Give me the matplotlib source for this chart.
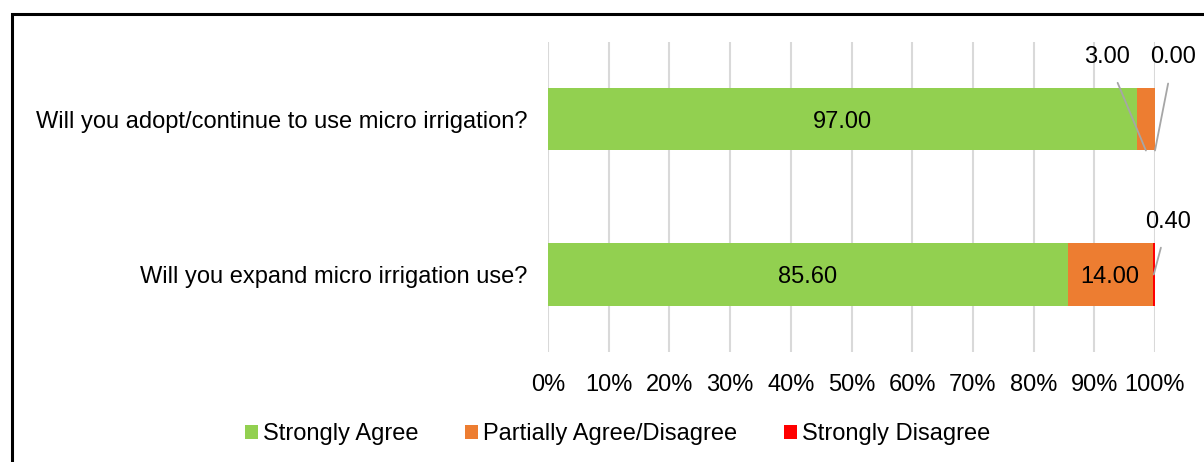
import matplotlib
matplotlib.use("Agg")
from matplotlib import pyplot as plt
from matplotlib.patches import Rectangle
from matplotlib.ticker import PercentFormatter

plt.rcParams['font.family'] = ['Liberation Sans', 'DejaVu Sans']

categories = ['Will you adopt/continue to use micro irrigation?',
              'Will you expand micro irrigation use?']
strongly_agree = [97.00, 85.60]
partially_agree = [3.00, 14.00]
strongly_disagree = [0.00, 0.40]
series_names = ['Strongly Agree', 'Partially Agree/Disagree', 'Strongly Disagree']
series_colors = ['#92D050', '#ED7D31', '#FF0000']

FS = 17

fig = plt.figure(figsize=(12.04, 4.62), dpi=100)
ax = fig.add_axes([548 / 1204, 1 - 352 / 462, 607 / 1204, 310 / 462])

ypos = list(range(len(categories)))
left = [0.0] * len(categories)
for vals, name, col in zip([strongly_agree, partially_agree, strongly_disagree],
                           series_names, series_colors):
    ax.barh(ypos, vals, left=left, height=0.4, color=col, label=name, zorder=3)
    left = [l + v for l, v in zip(left, vals)]

ax.set_xlim(0, 100)
ax.set_ylim(1.5, -0.5)
ax.set_yticks(ypos)
ax.set_yticklabels(categories)
ax.set_xticks(range(0, 101, 10))
ax.xaxis.set_major_formatter(PercentFormatter(decimals=0))
ax.tick_params(axis='both', length=0, labelsize=FS)
ax.tick_params(axis='x', pad=16)
ax.tick_params(axis='y', pad=15)
ax.grid(axis='x', color='#D9D9D9', linewidth=1.5, zorder=0)
for s in ax.spines.values():
    s.set_visible(False)

# labels inside bars
for i in ypos:
    ax.text(strongly_agree[i] / 2, i, f'{strongly_agree[i]:.2f}',
            ha='center', va='center_baseline', fontsize=FS, zorder=4)
ax.text(strongly_agree[1] + partially_agree[1] / 2, 1, f'{partially_agree[1]:.2f}',
        ha='center', va='center_baseline', fontsize=FS, zorder=4)

# small segments get leader lines
lead = dict(arrowstyle='-', color='#A6A6A6', lw=1.3, shrinkA=9, shrinkB=0)
ax.annotate(f'{partially_agree[0]:.2f}', xy=(strongly_agree[0] + partially_agree[0] / 2, 0.2),
            xytext=(92.1, -0.40), ha='center', va='center', fontsize=FS,
            arrowprops=lead, annotation_clip=False)
ax.annotate(f'{strongly_disagree[0]:.2f}', xy=(100, 0.2),
            xytext=(103.0, -0.40), ha='center', va='center', fontsize=FS,
            arrowprops=lead, annotation_clip=False)
ax.annotate(f'{strongly_disagree[1]:.2f}', xy=(99.8, 1.0),
            xytext=(102.1, 0.66), ha='center', va='center', fontsize=FS,
            arrowprops=lead, annotation_clip=False)

fig.legend(loc='center', bbox_to_anchor=(0.513, 1 - 434 / 462), ncol=3, frameon=False,
           fontsize=FS, handlelength=0.55, handleheight=0.55, handletextpad=0.2,
           columnspacing=2.0)

# outer frame
fig.patches.append(Rectangle((12 / 1204, -0.1), 1.2, 1 - 14 / 462 + 0.1,
                             transform=fig.transFigure, fill=False,
                             edgecolor='black', linewidth=2.2))

fig.savefig('out.png', dpi=100)
